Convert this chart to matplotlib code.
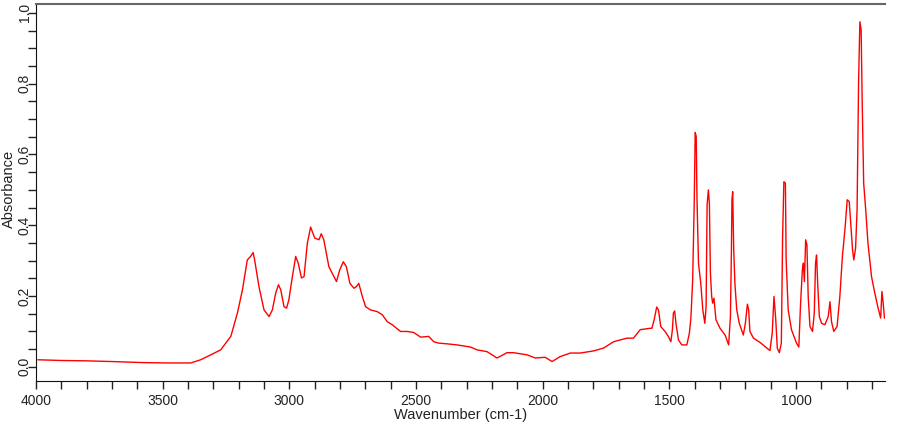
import numpy as np
import matplotlib.pyplot as plt
from matplotlib.ticker import MultipleLocator

plt.rcParams['font.family'] = ['Liberation Sans', 'DejaVu Sans']

# spectrum (wavenumber cm-1, absorbance)
wavenumber = [3992, 3900, 3800, 3700, 3574, 3480, 3389, 3350, 3310, 3271, 3231, 3205, 3185,
              3166, 3153, 3143, 3137, 3120, 3100, 3080, 3067, 3054, 3043, 3034, 3021, 3011,
              3002, 2988, 2975, 2965, 2952, 2942, 2929, 2916, 2900, 2883, 2874, 2864, 2844,
              2831, 2814, 2801, 2787, 2775, 2761, 2745, 2735, 2726, 2712, 2699, 2680, 2653,
              2633, 2614, 2594, 2561, 2535, 2509, 2482, 2450, 2430, 2410, 2377, 2338, 2285,
              2259, 2220, 2180, 2141, 2115, 2062, 2029, 1990, 1963, 1931, 1891, 1852, 1799,
              1760, 1720, 1668, 1642, 1615, 1576, 1569, 1560, 1550, 1543, 1534, 1517, 1504,
              1494, 1488, 1484, 1479, 1474, 1464, 1451, 1431, 1421, 1415, 1408, 1402, 1398,
              1394, 1391, 1385, 1376, 1368, 1360, 1355, 1351, 1346, 1342, 1338, 1333, 1329,
              1324, 1316, 1300, 1280, 1266, 1259, 1255, 1253, 1250, 1246, 1241, 1234, 1224,
              1208, 1200, 1192, 1187, 1182, 1168, 1142, 1103, 1094, 1087, 1080, 1074, 1066,
              1058, 1053, 1048, 1042, 1039, 1031, 1018, 998, 989, 982, 975, 971, 967, 962,
              957, 952, 945, 935, 928, 923, 919, 914, 908, 899, 886, 873, 866, 860, 851, 838,
              827, 817, 806, 798, 790, 784, 777, 772, 765, 759, 753, 748, 743, 739, 733, 725,
              716, 702, 689, 676, 666, 661, 656, 651]
absorbance = [0.020, 0.018, 0.017, 0.015, 0.012, 0.011, 0.011, 0.020, 0.034, 0.048, 0.086,
              0.152, 0.218, 0.302, 0.312, 0.323, 0.302, 0.227, 0.161, 0.142, 0.161, 0.208,
              0.232, 0.218, 0.170, 0.166, 0.189, 0.255, 0.312, 0.293, 0.251, 0.255, 0.349,
              0.395, 0.364, 0.359, 0.376, 0.359, 0.283, 0.265, 0.241, 0.274, 0.297, 0.283,
              0.236, 0.222, 0.227, 0.236, 0.199, 0.170, 0.161, 0.156, 0.147, 0.128, 0.119,
              0.100, 0.100, 0.097, 0.084, 0.086, 0.071, 0.067, 0.065, 0.062, 0.056, 0.048,
              0.043, 0.025, 0.040, 0.040, 0.034, 0.025, 0.027, 0.015, 0.029, 0.039, 0.039,
              0.045, 0.053, 0.071, 0.081, 0.081, 0.105, 0.109, 0.109, 0.133, 0.169, 0.161,
              0.114, 0.100, 0.086, 0.071, 0.105, 0.152, 0.158, 0.123, 0.076, 0.062, 0.062,
              0.095, 0.138, 0.246, 0.458, 0.662, 0.651, 0.477, 0.293, 0.236, 0.161, 0.123,
              0.170, 0.458, 0.500, 0.462, 0.265, 0.199, 0.180, 0.194, 0.133, 0.109, 0.090,
              0.062, 0.142, 0.331, 0.472, 0.495, 0.331, 0.232, 0.161, 0.123, 0.090, 0.123,
              0.177, 0.161, 0.100, 0.081, 0.069, 0.046, 0.095, 0.199, 0.133, 0.053, 0.040,
              0.067, 0.368, 0.523, 0.519, 0.302, 0.161, 0.105, 0.067, 0.056, 0.180, 0.274,
              0.293, 0.241, 0.359, 0.345, 0.199, 0.114, 0.100, 0.152, 0.293, 0.316, 0.227,
              0.142, 0.123, 0.119, 0.142, 0.184, 0.128, 0.100, 0.114, 0.199, 0.312, 0.396,
              0.472, 0.467, 0.406, 0.331, 0.302, 0.335, 0.444, 0.811, 0.975, 0.952, 0.754,
              0.519, 0.444, 0.349, 0.255, 0.208, 0.166, 0.138, 0.213, 0.180, 0.138]

fig = plt.figure(figsize=(9, 4.25), dpi=100)
ax = fig.add_axes([0.04, 0.1035, 0.943, 0.887])

ax.plot(wavenumber, absorbance, color='#ff0000', lw=1.0)

ax.set_xlim(4000, 650)
ax.set_ylim(-0.04, 1.025)
ax.xaxis.set_major_locator(MultipleLocator(500))
ax.xaxis.set_minor_locator(MultipleLocator(100))
ax.yaxis.set_major_locator(MultipleLocator(0.2))
ax.yaxis.set_minor_locator(MultipleLocator(0.05))
ax.yaxis.set_major_formatter(lambda v, p: f'{v:.1f}')

ax.tick_params(which='both', direction='out', length=6, width=1, color='#222222',
               labelsize=10, labelcolor='#222222')
ax.tick_params(axis='x', pad=3)
ax.tick_params(axis='y', pad=-3)
for lbl in ax.get_yticklabels():
    lbl.set_rotation(90)
    lbl.set_va('center')

ax.spines['right'].set_visible(False)
ax.spines['top'].set_color('#666666')
ax.spines['top'].set_linewidth(1.5)
ax.spines['left'].set_color('#111111')
ax.spines['bottom'].set_color('#111111')

ax.set_xlabel('Wavenumber (cm-1)', fontsize=10.5, color='#222222', labelpad=0)
ax.set_ylabel('Absorbance', fontsize=10.5, color='#222222')
ax.yaxis.set_label_coords(-0.024, 0.51)

fig.savefig('out.png', dpi=100)
